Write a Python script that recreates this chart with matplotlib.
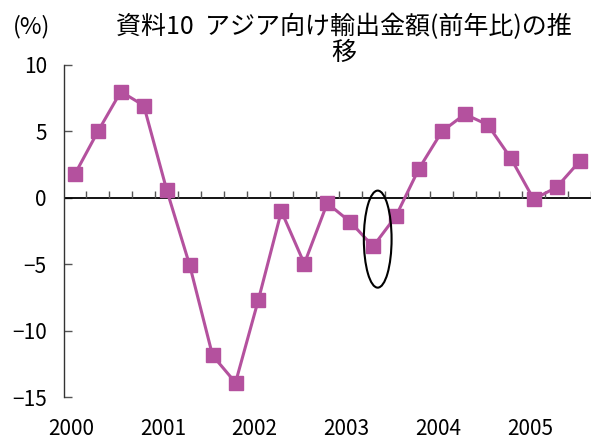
import numpy as np
import matplotlib
matplotlib.use('Agg')
from matplotlib import pyplot as plt
from matplotlib.patches import Ellipse

plt.rcParams['font.family'] = ['Noto Sans CJK JP', 'DejaVu Sans']

# quarterly, 2000Q1 .. 2005Q3
values = [1.8, 5.0, 8.0, 6.95, 0.6, -5.05, -11.85, -13.9, -7.65, -1.0, -4.95, -0.4,
          -1.8, -3.65, -1.35, 2.2, 5.0, 6.3, 5.5, 3.0, -0.1, 0.8, 2.75]
years = ['2000', '2001', '2002', '2003', '2004', '2005']
yticks = [10, 5, 0, -5, -10, -15]
title = '資料10  アジア向け輸出金額(前年比)の推\n移'

color = '#B4519E'
x = np.arange(len(values))

fig = plt.figure(figsize=(5.92, 4.41), dpi=100)
ax = fig.add_axes([63.5 / 592, 1 - 397.3 / 441, (591 - 63.5) / 592, (397.3 - 65) / 441])

ax.plot(x, values, color=color, lw=2.2, marker='s', markersize=10.4,
        markerfacecolor=color, markeredgecolor=color, zorder=3)

# zero line with small category ticks pointing up
ax.axhline(0, color='black', lw=1.3, zorder=2)
bounds = np.arange(len(values) + 1) - 0.5
ax.vlines(bounds[1:], 0, 0.5, color='#555555', lw=1, zorder=2)

# circled point (2003Q2)
ax.add_patch(Ellipse((13.2, -3.1), width=1.21, height=7.3, fill=False,
                     ec='black', lw=1.5, zorder=4))

ax.set_xlim(-0.5, len(values) - 0.5)
ax.set_ylim(-15, 10)
ax.set_yticks(yticks)
ax.set_yticklabels([str(v).replace('-', '−') for v in yticks])
ax.set_xticks(x[::4] - 0.17)
ax.set_xticklabels(years)
ax.tick_params(axis='x', length=0, pad=15, labelsize=15)
ax.tick_params(axis='y', direction='in', length=6, width=1, color='#555555', pad=12, labelsize=15)

for s in ['top', 'right', 'bottom']:
    ax.spines[s].set_visible(False)
ax.spines['left'].set_color('#333333')
ax.spines['left'].set_linewidth(1)

fig.text(343.5 / 592, 1 - 40 / 441, title, ha='center', va='center',
         multialignment='center', fontsize=18, linespacing=1.0)
fig.text(32 / 592, 1 - 27 / 441, '(%)', ha='center', va='center', fontsize=17)

fig.savefig('out.png', dpi=100)
